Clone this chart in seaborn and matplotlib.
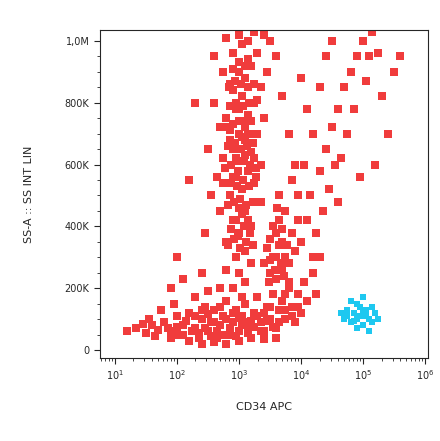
import numpy as np
import pandas as pd
import seaborn as sns
import matplotlib.pyplot as plt
from matplotlib.ticker import LogLocator, FixedLocator, AutoMinorLocator

# events: log10(CD34 APC), SS-A in thousands
column_x = [2.8, 2.9, 3.0, 3.1, 3.2, 2.85, 2.95, 3.05, 3.15, 3.25, 2.75, 2.9, 3.0, 3.1, 3.2, 3.3, 2.8, 2.95, 3.05, 3.15,
            3.25, 2.85, 3.0, 3.1, 3.2, 2.9, 3.05, 3.15, 2.95, 3.1, 2.7, 3.35, 3.35, 2.7, 3.35, 2.65, 3.0, 3.1, 2.9, 3.2,
            3.0, 2.85, 3.15, 3.3, 2.75, 3.4, 2.6, 3.0, 2.8, 3.25, 2.5, 2.55, 3.45, 3.5, 2.45, 3.4,
            2.9, 3.0, 3.1, 2.8, 3.2, 3.05]
column_y = [350, 420, 380, 450, 400, 500, 560, 520, 580, 540, 620, 650, 700, 680, 640, 700, 750, 780, 820, 760,
            800, 860, 900, 880, 920, 960, 990, 1000, 300, 320, 450, 600, 480, 720, 850, 560, 610, 740, 840, 700,
            460, 680, 940, 960, 900, 750, 800, 1020, 1010, 1030, 650, 500, 900, 1000, 380, 1020,
            200, 250, 220, 260, 280, 170]
core_x = [2.82, 2.92, 3.02, 3.12, 3.22, 2.87, 2.97, 3.07, 3.17, 3.27, 2.78, 2.88, 2.98, 3.08, 3.18, 3.28, 2.83, 2.93,
          3.03, 3.13, 3.23, 2.8, 2.9, 3.0, 3.1, 3.2, 2.86, 2.96, 3.06, 3.16, 2.84, 2.94, 3.04, 3.14, 3.24, 2.9, 3.0,
          3.1, 2.95, 3.05, 3.15, 2.88, 2.98, 3.08, 3.18, 2.82, 2.92, 3.02, 3.12, 3.22, 2.95, 3.05, 2.9, 3.0, 3.1,
          2.85, 3.15, 3.25, 2.75, 3.3]
core_y = [470, 480, 490, 470, 480, 540, 530, 550, 530, 560, 590, 600, 580, 610, 600, 590, 660, 670, 650, 660, 670,
          720, 730, 740, 720, 740, 790, 800, 790, 800, 850, 870, 860, 850, 860, 910, 930, 920, 420, 440, 420, 390,
          370, 400, 380, 340, 360, 330, 350, 340, 620, 690, 560, 780, 630, 710, 700, 620, 540, 810]
blob_x = [3.5, 3.6, 3.7, 3.8, 3.55, 3.65, 3.75, 3.45, 3.85, 3.9, 3.6, 3.7, 3.5, 3.8, 3.95, 3.4, 3.65, 3.75,
          3.55, 3.65, 3.75, 3.6, 3.7, 3.5, 3.58, 3.68, 3.78, 3.48, 3.62, 3.72]
blob_y = [250, 300, 350, 280, 400, 420, 450, 330, 380, 320, 230, 260, 360, 220, 420, 280, 500, 180,
          300, 340, 300, 380, 390, 290, 260, 280, 340, 220, 460, 240]
band_x = [1.2, 1.35, 1.5, 1.6, 1.7, 1.8, 1.9, 2.0, 2.0, 2.1, 2.15, 2.2, 2.3, 2.35, 2.4, 2.45, 2.5, 2.55, 2.6, 2.65,
          2.7, 2.75, 2.8, 2.85, 2.9, 2.95, 3.0, 3.05, 3.1, 3.15, 3.2, 3.25, 3.3, 3.35, 3.4, 3.45, 3.5, 3.55, 3.6, 3.65,
          3.7, 3.75, 3.8, 3.85, 3.9, 3.95, 4.0, 4.05, 4.1, 4.2, 4.25, 4.3, 1.9, 2.2, 2.6, 3.0, 3.4, 1.55, 1.75, 1.95,
          2.3, 2.5, 2.7, 2.4, 2.8, 3.6,
          2.25, 2.35, 2.45, 2.55, 2.65, 2.75, 2.85, 2.95, 3.05, 3.15, 3.25, 3.35, 3.45, 3.55, 3.65, 3.75,
          2.3, 2.4, 2.5, 2.6, 2.7, 2.8, 2.9, 3.0, 3.1, 3.2, 3.3, 3.4, 3.5, 2.1, 2.0, 1.85, 1.65, 1.45, 3.85, 3.95]
band_y = [60, 70, 55, 80, 65, 90, 60, 75, 110, 50, 95, 120, 70, 40, 100, 140, 60, 90, 130, 40,
          80, 110, 160, 50, 90, 130, 60, 110, 150, 80, 40, 120, 170, 90, 60, 140, 100, 180, 70, 130,
          160, 100, 200, 140, 90, 180, 120, 220, 160, 250, 180, 300, 40, 30, 25, 30, 35, 100, 130, 150,
          170, 190, 200, 20, 20, 40,
          60, 55, 70, 45, 60, 50, 70, 45, 80, 55, 75, 60, 95, 75, 90, 130,
          110, 130, 115, 90, 140, 100, 120, 105, 90, 95, 110, 120, 140, 80, 50, 70, 45, 85, 110, 140]
stream_x = [4.0, 4.1, 4.15, 4.2, 4.3, 4.35, 4.4, 4.5, 4.55, 4.6, 4.7, 4.75, 4.8, 4.9, 5.0, 5.05, 5.15, 4.25, 4.45, 4.65,
            4.85, 5.1, 3.95, 4.05, 4.2, 4.3, 4.4, 4.5, 5.3, 5.4, 5.5, 5.25, 4.95, 4.6, 5.2, 4.1, 4.0, 3.8, 3.7, 3.6,
            5.6, 2.2, 2.3, 2.4, 2.0, 1.9, 2.1, 2.6, 3.9, 3.85]
stream_y = [350, 420, 500, 300, 580, 450, 650, 720, 600, 780, 850, 700, 900, 950, 1000, 870, 1030, 380, 520, 620,
            780, 950, 500, 600, 700, 850, 950, 1000, 820, 700, 900, 960, 560, 480, 600, 780, 880, 700, 820, 950,
            950, 550, 800, 250, 300, 200, 230, 950, 600, 550]
cd34_x = [4.7, 4.75, 4.8, 4.85, 4.9, 4.95, 5.0, 5.05, 5.1, 5.15, 4.8, 4.9, 5.0, 5.2, 4.65, 4.85, 4.95, 5.05, 5.1, 4.75,
          5.0, 4.9, 5.15, 5.25]
cd34_y = [100, 130, 90, 120, 150, 110, 80, 130, 100, 140, 160, 70, 170, 120, 120, 95, 140, 110, 60, 110,
          120, 100, 90, 100]

red = pd.DataFrame({"x": column_x + core_x + blob_x + band_x + stream_x,
                    "y": column_y + core_y + blob_y + band_y + stream_y})
blue = pd.DataFrame({"x": cd34_x, "y": cd34_y})
for df in (red, blue):
    df["apc"] = 10 ** df["x"]
    df["ss"] = df["y"] * 1000

sns.set_style("ticks")
plt.rcParams["font.family"] = ["DejaVu Sans"]

fig = plt.figure(figsize=(4.4, 4.41), dpi=100)
ax = fig.add_axes([0.227, 0.188, 0.746, 0.744])

sns.scatterplot(data=red, x="apc", y="ss", ax=ax, color="#f03c3c", marker="s", s=34, linewidth=0)
sns.scatterplot(data=blue, x="apc", y="ss", ax=ax, color="#1ec8f0", marker="s", s=16, linewidth=0)

ax.set_xscale("log")
ax.set_xlim(10 ** 0.76, 10 ** 6.05)
ax.set_ylim(-26000, 1035000)
ax.xaxis.set_major_locator(FixedLocator([10 ** k for k in range(1, 7)]))
ax.xaxis.set_minor_locator(LogLocator(base=10, subs=np.arange(2, 10)))
ax.set_xticklabels([f"$10^{k}$" for k in range(1, 7)])
ax.set_yticks([0, 200000, 400000, 600000, 800000, 1000000])
ax.set_yticklabels(["0", "200K", "400K", "600K", "800K", "1,0M"])
ax.yaxis.set_minor_locator(AutoMinorLocator(4))
ax.tick_params(labelsize=7, length=4, width=0.8)
ax.tick_params(which="minor", length=2.5, width=0.6)
for sp in ax.spines.values():
    sp.set_linewidth(0.8)

ax.set_xlabel("CD34 APC", fontsize=8, labelpad=14)
ax.set_ylabel("SS-A :: SS INT LIN", fontsize=8, labelpad=22)

fig.savefig("out.png", dpi=100)
